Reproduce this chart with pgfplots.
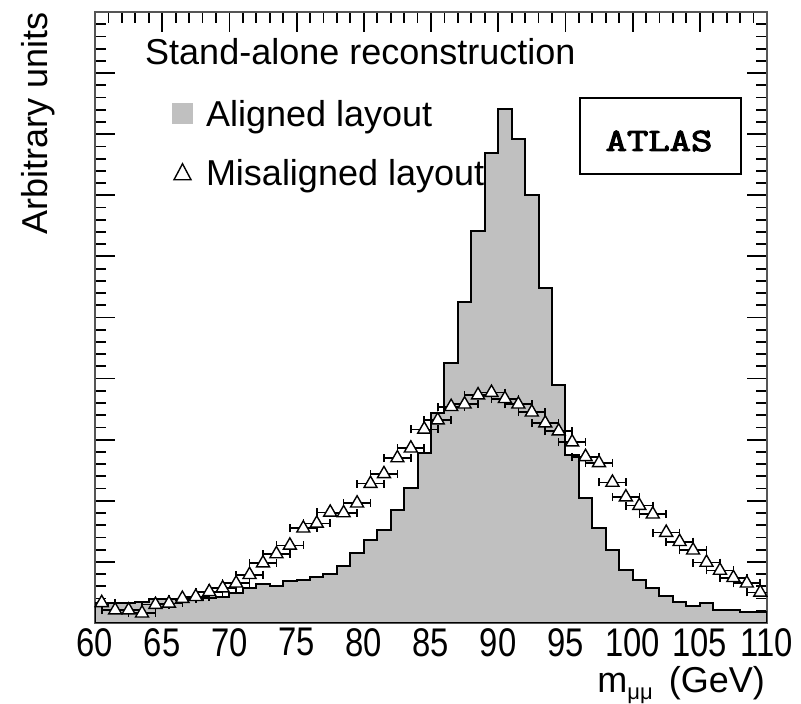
\documentclass[border=0pt]{standalone}
\usepackage{pgfplots}
\pgfplotsset{compat=1.18}
\usepackage{fontspec}
\setmainfont{Liberation Sans}
\newfontfamily\condfont{Liberation Sans}[FakeStretch=0.82]
\newfontfamily\atlasfont{Latin Modern Mono}[FakeBold=3]

\definecolor{histfill}{RGB}{192,192,192}
\definecolor{framegray}{RGB}{85,85,85}

\newcommand{\labelfont}{\fontsize{36}{43}\selectfont}

% Aligned layout: 1 GeV bins, value at the left edge of each bin (last row closes the 109-110 bin)
\pgfplotstableread{
x    y
60   0.30
61   0.32
62   0.33
63   0.35
64   0.39
65   0.40
66   0.37
67   0.38
68   0.41
69   0.43
70   0.49
71   0.57
72   0.64
73   0.61
74   0.69
75   0.70
76   0.75
77   0.80
78   0.93
79   1.15
80   1.36
81   1.52
82   1.85
83   2.21
84   2.79
85   3.44
86   4.25
87   5.25
88   6.41
89   7.70
90   8.41
91   7.92
92   7.00
93   5.49
94   3.89
95   2.75
96   2.05
97   1.56
98   1.20
99   0.87
100  0.70
101  0.57
102  0.44
103  0.34
104  0.28
105  0.33
106  0.21
107  0.21
108  0.18
109  0.18
110  0.18
}\alignedtab

% Misaligned layout: bin centres, values and horizontal half-widths
\pgfplotstableread{
x      y     ex
60.5   0.33  1
61.5   0.21  1
62.5   0.21  1
63.5   0.16  1
64.5   0.30  1
65.5   0.32  1
66.5   0.40  1
67.5   0.43  1
68.5   0.51  1
69.5   0.57  1
70.5   0.65  1
71.5   0.79  1
72.5   0.98  1
73.5   1.13  1
74.5   1.27  1
75.5   1.55  1
76.5   1.63  1
77.5   1.81  1
78.5   1.80  1
79.5   1.96  1
80.5   2.28  1
81.5   2.44  1
82.5   2.70  1
83.5   2.86  1
84.5   3.17  1
85.5   3.32  1
86.5   3.54  1
87.5   3.58  1
88.5   3.73  1
89.5   3.77  1
90.5   3.67  1
91.5   3.58  1
92.5   3.45  1
93.5   3.27  1
94.5   3.14  1
95.5   2.96  1
96.5   2.72  1
97.5   2.62  1
98.5   2.30  1
99.5   2.06  1
100.5  1.92  1
101.5  1.78  1
102.5  1.48  1
103.5  1.33  1
104.5  1.19  1
105.5  0.99  1
106.5  0.86  1
107.5  0.74  1
108.5  0.65  1
109.5  0.50  1
}\misalignedtab

\begin{document}
\begin{tikzpicture}[x=1pt,y=1pt]
\useasboundingbox (0,0) rectangle (801,704);
\begin{axis}[
  at={(95pt,81pt)}, anchor=south west,
  width=672pt, height=611pt, scale only axis,
  xmin=60, xmax=110, ymin=0, ymax=10,
  xtick={60,65,...,110}, minor x tick num=4,
  ytick={0,1,...,10}, minor y tick num=4, yticklabels={},
  tick align=inside,
  major tick length=20pt, minor tick length=11pt,
  tick style={black, line width=1.8pt},
  axis line style={framegray, line width=2pt},
  xticklabel style={font=\condfont\fontsize{40}{46}\selectfont, inner sep=0pt, yshift=-5pt},
  /pgf/number format/assume math mode=true,
  legend cell align=left,
  legend style={at={(0.1146,0.8576)}, anchor=north west,
    draw=none, fill=none, inner sep=0pt, outer sep=0pt,
    row sep=29pt, column sep=13pt, font=\labelfont,
    nodes={inner sep=0pt}},
]
\addplot[const plot, fill=histfill, draw=black, line width=2pt,
  legend image code/.code={\fill[histfill] (0pt,-9pt) rectangle (19pt,10pt);}]
  table[x=x, y=y] {\alignedtab} \closedcycle;
\addlegendentry{\rule[-7pt]{0pt}{35pt}Aligned layout}

\addplot[only marks, mark=triangle*, mark size=7.5pt,
  mark options={fill=white, draw=black, line width=1.4pt},
  error bars/.cd, x dir=both, x explicit,
  error bar style={black, line width=1.6pt},
  error mark options={rotate=90, black, line width=1.6pt, mark size=4pt},
  /pgfplots/legend image code/.code={%
    \path[draw=none, fill=none] (0pt,-9pt) rectangle (19pt,10pt);
    \draw[black, line width=1.4pt, fill=white]
      (1pt,-7.5pt) -- (18pt,-7.5pt) -- (9.5pt,8.5pt) -- cycle;}]
  table[x=x, y=y, x error=ex] {\misalignedtab};
\addlegendentry{\rule[-7pt]{0pt}{35pt}Misaligned layout}
\end{axis}

\node[anchor=base west, inner sep=0pt, font=\labelfont] at (145,639) {Stand-alone reconstruction};
\node[rotate=90, anchor=base east, inner sep=0pt, font=\labelfont] at (47,692) {Arbitrary units};
\node[anchor=base east, inner sep=0pt, font=\labelfont] at (765,11)
  {m\raisebox{-7pt}{\fontsize{22}{26}\selectfont μμ}\hspace{16pt}(GeV)};

\draw[line width=1.6pt] (580,530) rectangle (741,606);
\node[anchor=base, inner sep=0pt, font=\atlasfont\fontsize{37}{44}\selectfont] at (659,553)
  {\scalebox{1.12}[0.88]{ATLAS}};
\end{tikzpicture}
\end{document}
